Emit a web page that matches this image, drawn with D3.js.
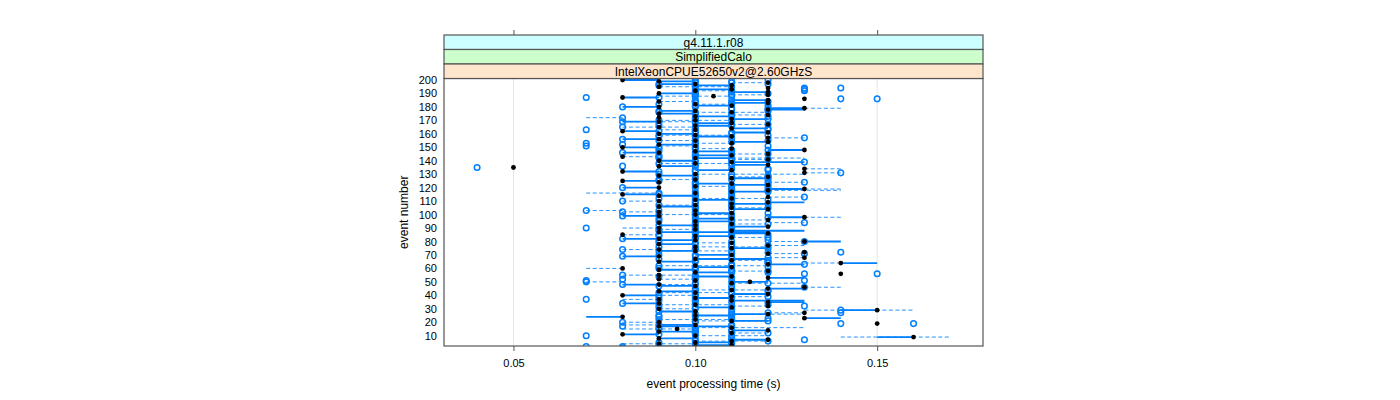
<!DOCTYPE html>
<html><head><meta charset="utf-8">
<script src="https://cdn.jsdelivr.net/npm/d3@7/dist/d3.min.js"></script>
<style>
body{margin:0;background:#fff}
text{font-family:"Liberation Sans",Arial,Helvetica,sans-serif;fill:#000}
</style>
</head><body>
<svg id="chart" width="1400" height="400"></svg>
<script>
// ---------------- data ----------------
const stripLabels = ["g4.11.1.r08", "SimplifiedCalo", "IntelXeonCPUE52650v2@2.60GHzS"];
const xTicks = [0.05, 0.10, 0.15];
const xTickLabels = ["0.05", "0.10", "0.15"];
const yTicks = [10,20,30,40,50,60,70,80,90,100,110,120,130,140,150,160,170,180,190,200];

const eventNumber = [1,2,3,4,5,6,7,8,9,10,11,12,13,14,15,16,17,18,19,20,
21,22,23,24,25,26,27,28,29,30,31,32,33,34,35,36,37,38,39,40,
41,42,43,44,45,46,47,48,49,50,51,52,53,54,55,56,57,58,59,60,
61,62,63,64,65,66,67,68,69,70,71,72,73,74,75,76,77,78,79,80,
81,82,83,84,85,86,87,88,89,90,91,92,93,94,95,96,97,98,99,100,
101,102,103,104,105,106,107,108,109,110,111,112,113,114,115,116,117,118,119,120,
121,122,123,124,125,126,127,128,129,130,131,132,133,134,135,136,137,138,139,140,
141,142,143,144,145,146,147,148,149,150,151,152,153,154,155,156,157,158,159,160,
161,162,163,164,165,166,167,168,169,170,171,172,173,174,175,176,177,178,179,180,
181,182,183,184,185,186,187,188,189,190,191,192,193,194,195,196,197,198,199,200];

// black points: one per event
const dotTime = [
0.09,0.10,0.11,0.09,0.10,0.11,0.12,0.09,0.16,0.10,
0.08,0.11,0.09,0.12,0.095,0.11,0.09,0.10,0.15,0.09,
0.11,0.10,0.13,0.08,0.10,0.12,0.13,0.10,0.15,0.09,
0.11,0.12,0.10,0.09,0.12,0.11,0.09,0.10,0.11,0.08,
0.12,0.10,0.09,0.11,0.12,0.13,0.10,0.09,0.11,0.115,
0.10,0.09,0.12,0.11,0.09,0.14,0.10,0.12,0.09,0.08,
0.11,0.10,0.12,0.14,0.09,0.11,0.10,0.13,0.09,0.11,
0.12,0.13,0.10,0.09,0.11,0.10,0.12,0.09,0.11,0.13,
0.10,0.09,0.11,0.10,0.08,0.12,0.09,0.11,0.10,0.09,
0.12,0.10,0.11,0.09,0.10,0.12,0.11,0.13,0.09,0.10,
0.11,0.09,0.10,0.12,0.11,0.09,0.10,0.11,0.12,0.09,
0.10,0.11,0.12,0.09,0.08,0.10,0.11,0.12,0.13,0.09,
0.10,0.12,0.11,0.09,0.08,0.10,0.11,0.12,0.09,0.10,
0.13,0.08,0.11,0.13,0.05,0.09,0.12,0.10,0.11,0.09,
0.12,0.10,0.08,0.11,0.12,0.09,0.10,0.13,0.11,0.08,
0.10,0.09,0.11,0.12,0.10,0.09,0.12,0.11,0.10,0.09,
0.12,0.08,0.10,0.11,0.09,0.10,0.12,0.11,0.09,0.10,
0.11,0.09,0.10,0.12,0.09,0.11,0.10,0.12,0.13,0.09,
0.11,0.10,0.12,0.09,0.12,0.13,0.08,0.105,0.12,0.09,
0.12,0.10,0.11,0.12,0.09,0.11,0.10,0.12,0.09,0.08];

// blue open circles: first and second run per event (null = none)
const circleTime = [
0.08,0.07,0.10,0.10,0.11,0.10,0.13,0.10,null,0.07,
0.09,0.12,0.10,0.11,0.09,0.10,0.08,0.09,0.14,0.08,
0.12,0.09,0.12,0.09,0.11,0.11,0.14,0.09,0.14,0.10,
0.10,0.13,0.09,0.08,0.12,0.10,0.07,0.11,0.12,0.09,
0.11,0.09,0.10,0.12,0.11,0.13,0.09,0.08,0.12,0.07,
0.07,0.08,0.11,0.10,0.08,0.13,0.11,0.12,0.10,0.09,
0.10,0.09,0.13,0.12,0.10,0.12,0.09,0.12,0.08,0.10,
0.13,0.14,0.09,0.08,0.12,0.11,0.12,0.10,0.10,0.13,
0.09,0.08,0.12,0.09,0.09,0.11,0.10,0.10,0.09,0.07,
0.11,0.09,0.12,0.13,0.11,0.11,0.10,0.12,0.08,0.09,
0.10,0.08,0.07,0.11,0.12,0.10,0.09,0.12,0.11,0.08,
0.11,0.10,0.13,0.10,0.09,0.09,0.12,0.11,0.12,0.08,
0.11,0.11,0.10,0.13,0.09,0.09,0.12,0.12,0.10,0.11,
0.14,0.09,0.10,0.12,0.04,0.08,0.11,0.09,0.13,0.10,
0.11,0.11,0.09,0.10,0.12,0.08,0.11,0.12,0.10,0.09,
0.07,0.08,0.07,0.11,0.09,0.08,0.13,0.10,0.09,0.10,
0.11,0.09,0.07,0.12,0.08,0.11,0.12,0.10,0.08,0.09,
0.12,0.08,0.11,0.11,0.10,0.10,0.09,0.12,0.12,0.08,
0.10,0.11,0.11,0.10,0.11,0.14,0.07,0.10,0.11,0.10,
0.11,0.13,0.13,0.13,0.10,0.10,0.09,0.11,0.10,0.12];
const circle2Time = [
0.10,0.08,0.09,0.11,0.09,0.12,0.11,0.11,null,0.11,
0.10,0.10,0.11,0.10,0.10,0.09,0.11,0.11,0.16,0.10,
0.10,0.11,0.11,0.10,0.09,0.10,0.12,0.11,null,0.11,
0.09,0.11,0.12,0.10,0.11,0.09,0.10,0.09,0.10,0.10,
0.10,0.11,0.12,0.10,0.10,null,0.11,0.10,0.10,0.11,
0.13,0.10,0.10,0.09,0.10,0.15,0.12,0.11,0.11,0.10,
0.12,0.11,0.11,0.12,0.12,0.10,0.11,0.11,0.10,0.09,
0.11,0.12,0.11,0.10,0.10,0.09,0.11,0.11,0.09,0.11,
0.12,0.10,0.10,0.11,0.12,0.10,0.11,0.09,0.11,0.10,
0.10,0.11,0.10,0.10,0.09,0.10,0.09,0.11,0.10,0.11,
0.12,0.10,0.09,0.10,0.10,0.11,0.11,0.10,0.10,0.10,
0.12,0.09,0.11,0.11,0.10,0.11,0.10,0.12,0.11,0.10,
0.12,0.10,0.12,0.10,0.12,0.11,0.10,0.11,0.12,0.09,
null,0.10,0.12,0.11,null,0.10,0.10,0.11,0.10,0.11,
0.12,0.09,0.10,0.09,0.11,0.10,0.09,0.11,0.09,0.10,
0.12,0.10,0.10,0.10,0.12,0.10,0.11,0.09,0.12,0.11,
0.10,0.10,0.12,0.10,0.10,0.09,0.11,0.09,0.10,0.11,
0.10,0.10,0.12,0.10,0.11,0.09,0.12,0.11,0.11,0.10,
0.12,0.09,0.10,0.12,0.10,0.15,0.09,0.11,0.10,0.12,
0.10,0.11,0.10,0.14,0.11,0.09,0.12,0.10,0.11,0.10];

// solid blue segments
const solidEvent = [2,3,5,7,8,9,11,13,14,17,
 18,21,23,24,25,26,28,29,31,34,
 35,36,38,40,41,43,45,47,48,50,
 53,54,57,59,61,63,64,65,67,69,
 70,73,75,78,80,81,82,84,86,87,
 88,91,92,95,97,98,99,101,104,106,
 108,109,111,114,115,117,119,120,122,123,
 125,127,129,132,133,136,137,139,140,142,
 144,146,147,148,150,152,154,156,158,160,
 161,162,164,166,168,169,171,173,175,177,
 178,179,180,181,183,185,187,190,191,193,
 196,197,199,200];
const solidFrom = [0.09,0.10,0.10,0.11,0.09,0.15,0.08,0.09,0.11,0.09,
 0.09,0.11,0.13,0.07,0.10,0.11,0.09,0.14,0.10,0.08,
 0.12,0.11,0.10,0.08,0.11,0.09,0.12,0.09,0.08,0.11,
 0.12,0.10,0.10,0.09,0.10,0.12,0.14,0.09,0.10,0.08,
 0.10,0.09,0.11,0.09,0.13,0.09,0.08,0.10,0.11,0.09,
 0.11,0.11,0.09,0.10,0.10,0.12,0.08,0.10,0.11,0.09,
 0.11,0.12,0.10,0.09,0.08,0.11,0.12,0.08,0.11,0.10,
 0.08,0.11,0.09,0.08,0.10,0.09,0.11,0.11,0.09,0.10,
 0.10,0.08,0.10,0.12,0.08,0.09,0.11,0.08,0.10,0.09,
 0.11,0.08,0.11,0.10,0.10,0.08,0.11,0.10,0.09,0.09,
 0.12,0.12,0.08,0.10,0.11,0.11,0.08,0.09,0.11,0.10,
 0.10,0.09,0.09,0.08];
const solidTo = [0.10,0.11,0.11,0.12,0.10,0.16,0.09,0.10,0.12,0.11,
 0.10,0.12,0.14,0.08,0.11,0.12,0.10,0.15,0.11,0.09,
 0.13,0.13,0.11,0.09,0.12,0.10,0.13,0.10,0.09,0.12,
 0.13,0.11,0.11,0.10,0.11,0.13,0.15,0.10,0.12,0.09,
 0.11,0.10,0.12,0.10,0.14,0.10,0.09,0.11,0.12,0.12,
 0.13,0.12,0.10,0.11,0.11,0.13,0.09,0.11,0.12,0.10,
 0.12,0.13,0.11,0.10,0.09,0.12,0.13,0.09,0.12,0.11,
 0.09,0.12,0.10,0.09,0.11,0.10,0.12,0.13,0.10,0.11,
 0.11,0.09,0.11,0.13,0.09,0.10,0.12,0.09,0.11,0.10,
 0.12,0.09,0.12,0.11,0.11,0.09,0.12,0.11,0.10,0.10,
 0.13,0.13,0.09,0.11,0.12,0.12,0.09,0.10,0.12,0.11,
 0.11,0.10,0.10,0.09];

// dashed blue segments
const dashEvent = [1,4,6,9,10,12,15,16,18,20,
 21,22,26,27,29,30,32,33,37,39,
 40,42,44,46,48,49,50,52,55,58,
 60,62,64,66,68,71,73,74,76,77,
 79,80,83,85,89,90,93,94,96,98,
 100,102,103,105,107,110,112,113,115,116,
 118,119,121,124,126,128,130,131,134,138,
 141,142,143,145,149,151,153,155,157,159,
 163,165,167,169,170,172,174,176,179,182,
 184,188,189,192,195,198];
const dashFrom = [0.08,0.08,0.10,0.14,0.10,0.11,0.08,0.10,0.08,0.08,
 0.10,0.09,0.11,0.12,0.13,0.09,0.11,0.09,0.08,0.11,
 0.08,0.09,0.10,0.13,0.08,0.11,0.07,0.09,0.08,0.11,
 0.07,0.09,0.13,0.11,0.12,0.12,0.09,0.08,0.10,0.12,
 0.10,0.12,0.11,0.08,0.09,0.08,0.11,0.12,0.11,0.13,
 0.09,0.08,0.07,0.11,0.09,0.08,0.10,0.12,0.08,0.07,
 0.12,0.13,0.10,0.12,0.09,0.11,0.10,0.13,0.13,0.09,
 0.11,0.11,0.08,0.11,0.10,0.09,0.10,0.09,0.12,0.09,
 0.09,0.08,0.11,0.08,0.09,0.07,0.11,0.10,0.13,0.10,
 0.09,0.09,0.11,0.10,0.09,0.11];
const dashTo = [0.09,0.10,0.12,0.17,0.12,0.12,0.10,0.13,0.10,0.09,
 0.12,0.11,0.13,0.13,0.16,0.10,0.12,0.11,0.09,0.12,
 0.10,0.11,0.12,0.14,0.10,0.13,0.08,0.10,0.10,0.12,
 0.08,0.12,0.14,0.12,0.13,0.13,0.11,0.09,0.12,0.13,
 0.11,0.13,0.12,0.09,0.10,0.09,0.12,0.13,0.12,0.14,
 0.11,0.09,0.08,0.12,0.10,0.09,0.12,0.13,0.09,0.09,
 0.14,0.14,0.11,0.13,0.10,0.12,0.13,0.14,0.14,0.11,
 0.12,0.13,0.09,0.12,0.11,0.10,0.11,0.10,0.13,0.11,
 0.10,0.10,0.12,0.10,0.11,0.08,0.12,0.12,0.14,0.11,
 0.10,0.11,0.12,0.11,0.11,0.12];

// ---------------- layout ----------------
const P = {left: 444, right: 983, top: 78.5, bottom: 346};
const stripH = 14.5;
const blue = "#0080ff";

const svg = d3.select("#chart");

// x: data range 0.04..0.17 padded 7% each side (lattice style)
const xLo = 0.04, xHi = 0.17, pad = 0.07 * (xHi - xLo);
const x = d3.scaleLinear().domain([xLo - pad, xHi + pad]).range([P.left, P.right]);
// y: event number, 200 at y=80 and 10 at y=335.7
const y = d3.scaleLinear().domain([10, 200]).range([335.7, 80]);

svg.append("defs").append("clipPath").attr("id", "clip")
  .append("rect").attr("x", P.left).attr("y", P.top)
  .attr("width", P.right - P.left).attr("height", P.bottom - P.top);

// grid
svg.append("g").selectAll("line").data(xTicks).join("line")
  .attr("x1", d => x(d)).attr("x2", d => x(d))
  .attr("y1", P.top).attr("y2", P.bottom)
  .attr("stroke", "#e6e6e6").attr("stroke-width", 1);

const plot = svg.append("g").attr("clip-path", "url(#clip)");

plot.append("g").selectAll("line").data(dashEvent.map((e, i) => ({e, a: dashFrom[i], b: dashTo[i]})))
  .join("line")
  .attr("x1", d => x(d.a)).attr("x2", d => x(d.b))
  .attr("y1", d => y(d.e)).attr("y2", d => y(d.e))
  .attr("stroke", blue).attr("stroke-width", 1).attr("stroke-opacity", 0.85)
  .attr("stroke-dasharray", "4,2.5");

plot.append("g").selectAll("line").data(solidEvent.map((e, i) => ({e, a: solidFrom[i], b: solidTo[i]})))
  .join("line")
  .attr("x1", d => x(d.a)).attr("x2", d => x(d.b))
  .attr("y1", d => y(d.e)).attr("y2", d => y(d.e))
  .attr("stroke", blue).attr("stroke-width", 1.8);

const circles = eventNumber.map((e, i) => ({e, t: circleTime[i]}))
  .concat(eventNumber.map((e, i) => ({e, t: circle2Time[i]})))
  .filter(d => d.t != null);
plot.append("g").selectAll("circle").data(circles).join("circle")
  .attr("cx", d => x(d.t)).attr("cy", d => y(d.e)).attr("r", 2.8)
  .attr("fill", "none").attr("stroke", blue).attr("stroke-width", 1.5);

plot.append("g").selectAll("circle").data(eventNumber.map((e, i) => ({e, t: dotTime[i]}))).join("circle")
  .attr("cx", d => x(d.t)).attr("cy", d => y(d.e)).attr("r", 2.4)
  .attr("fill", "#000");

// panel frame
svg.append("rect").attr("x", P.left).attr("y", P.top)
  .attr("width", P.right - P.left).attr("height", P.bottom - P.top)
  .attr("fill", "none").attr("stroke", "#555").attr("stroke-width", 1.2);

// strips (outermost on top)
const stripColors = ["#ccffff", "#ccffcc", "#ffe5cc"];
stripLabels.forEach((lab, i) => {
  const top = P.top - stripH * (3 - i);
  svg.append("rect").attr("x", P.left).attr("y", top)
    .attr("width", P.right - P.left).attr("height", stripH)
    .attr("fill", stripColors[i]).attr("stroke", "#555").attr("stroke-width", 1.2);
  svg.append("text").attr("x", (P.left + P.right) / 2).attr("y", top + stripH / 2 + 4.3)
    .attr("text-anchor", "middle").attr("font-size", 12).text(lab);
});

// bottom axis
const xAxis = d3.axisBottom(x).tickValues(xTicks).tickFormat((d, i) => xTickLabels[i]).tickSizeOuter(0).tickSize(5).tickPadding(8);
const gx = svg.append("g").attr("transform", `translate(0,${P.bottom})`).call(xAxis);
gx.select(".domain").remove();
gx.selectAll("line").attr("stroke", "#555");
gx.selectAll("text").attr("font-size", 11).attr("font-family", "Liberation Sans, Arial, sans-serif");

// top ticks (above strips)
const stripTop = P.top - 3 * stripH;
const xTop = d3.axisTop(x).tickValues(xTicks).tickFormat("").tickSizeOuter(0).tickSize(5);
const gt = svg.append("g").attr("transform", `translate(0,${stripTop})`).call(xTop);
gt.select(".domain").remove();
gt.selectAll("line").attr("stroke", "#555");

// left axis labels
const yAxis = d3.axisLeft(y).tickValues(yTicks).tickSize(0).tickPadding(7).tickSizeOuter(0);
const gy = svg.append("g").attr("transform", `translate(${P.left},0)`).call(yAxis);
gy.select(".domain").remove();
gy.selectAll("text").attr("font-size", 11).attr("font-family", "Liberation Sans, Arial, sans-serif");

// axis titles
svg.append("text").attr("x", (P.left + P.right) / 2).attr("y", 388)
  .attr("text-anchor", "middle").attr("font-size", 12).text("event processing time (s)");
svg.append("text").attr("transform", `translate(408,${(P.top + P.bottom) / 2}) rotate(-90)`)
  .attr("text-anchor", "middle").attr("font-size", 12).text("event number");
</script>
</body></html>
